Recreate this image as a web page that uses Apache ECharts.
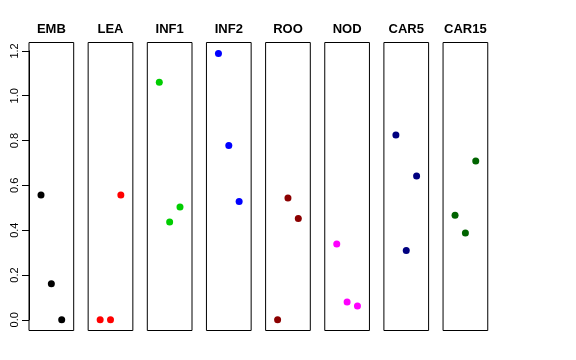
<!DOCTYPE html>
<html>
<head>
<meta charset="utf-8">
<script src="https://cdn.jsdelivr.net/npm/echarts@6/dist/echarts.min.js"></script>
<style>html,body{margin:0;padding:0;background:#fff;}#c{width:576px;height:360px;}</style>
</head>
<body>
<div id="c"></div>
<script>
const categories = ['EMB','LEA','INF1','INF2','ROO','NOD','CAR5','CAR15'];
const positions = [1, 2, 3];
const EMB   = [0.557, 0.161, 0.000];
const LEA   = [0.000, 0.000, 0.557];
const INF1  = [1.060, 0.437, 0.503];
const INF2  = [1.188, 0.778, 0.528];
const ROO   = [0.000, 0.544, 0.452];
const NOD   = [0.338, 0.080, 0.062];
const CAR5  = [0.825, 0.309, 0.642];
const CAR15 = [0.467, 0.387, 0.709];
const seriesValues = [EMB, LEA, INF1, INF2, ROO, NOD, CAR5, CAR15];
const colors = ['#000000','#FF0000','#00CD00','#0000FF','#8B0000','#FF00FF','#000080','#006400'];
const yTicks = [0, 0.2, 0.4, 0.6, 0.8, 1.0, 1.2];

const chart = echarts.init(document.getElementById('c'), null, {renderer:'canvas'});
const font = 'Liberation Sans, Arial, Helvetica, sans-serif';
const boxTop = 42.5, boxBottom = 330.5, boxH = boxBottom - boxTop;
const left0 = 29, step = 59.15, boxW = 44.7;
const yMin = -0.0476, yMax = 1.2376;
const xMin = -0.16, xMax = 4.16;

const grids = [], xAxes = [], yAxes = [], series = [], texts = [];
categories.forEach((cat, i) => {
  const l = left0 + i * step;
  grids.push({left: l, top: boxTop, width: boxW, height: boxH, show: true,
    borderColor: '#000', borderWidth: 1, backgroundColor: 'transparent', containLabel: false});
  xAxes.push({gridIndex: i, type: 'value', min: xMin, max: xMax, show: false});
  yAxes.push({gridIndex: i, type: 'value', min: yMin, max: yMax, show: false});
  series.push({type: 'scatter', xAxisIndex: i, yAxisIndex: i, symbol: 'circle', symbolSize: 7,
    itemStyle: {color: colors[i], opacity: 1}, silent: true,
    data: positions.map((p, k) => [p, seriesValues[i][k]])});
  texts.push({type: 'text', x: l + boxW / 2, y: 29.5, silent: true,
    style: {text: cat, textAlign: 'center', textVerticalAlign: 'middle',
      font: 'bold 13px ' + font, fill: '#000'}});
});
// tick axis grid spanning exactly 0..1.2 of the panel scale
const axTop = boxTop + (yMax - yTicks[yTicks.length-1]) / (yMax - yMin) * boxH;
const axH = (yTicks[yTicks.length-1] - yTicks[0]) / (yMax - yMin) * boxH;
const ai = categories.length;
grids.push({left: left0, top: axTop, width: boxW, height: axH, show: false});
xAxes.push({gridIndex: ai, type: 'value', show: false, min: 0, max: 1});
yAxes.push({gridIndex: ai, type: 'value', min: yTicks[0], max: yTicks[yTicks.length-1], interval: 0.2,
  axisLine: {show: true, lineStyle: {color: '#000', width: 1}},
  axisTick: {show: true, length: 7, lineStyle: {color: '#000', width: 1}},
  splitLine: {show: false},
  axisLabel: {rotate: 90, margin: 9, fontFamily: font, fontSize: 11, color: '#000',
    formatter: v => v.toFixed(1)}});

chart.setOption({
  animation: false,
  backgroundColor: '#fff',
  grid: grids,
  xAxis: xAxes,
  yAxis: yAxes,
  series: series,
  graphic: texts
});
</script>
</body>
</html>
